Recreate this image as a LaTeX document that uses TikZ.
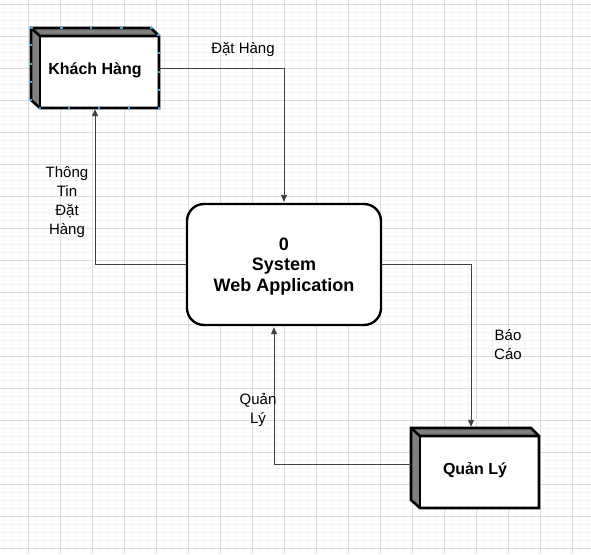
\documentclass[tikz,border=0pt]{standalone}
\usepackage{fontspec}
\setmainfont{Liberation Sans}
\usetikzlibrary{arrows.meta,calc}
\definecolor{minorc}{RGB}{243,243,243}
\definecolor{majorc}{RGB}{221,221,221}
\definecolor{depthc}{RGB}{128,128,128}
\definecolor{flowc}{RGB}{64,64,64}
\definecolor{handlec}{RGB}{60,165,215}
\newcommand\dfdbox[2]{%
  \fill[depthc] (#1,#2) -- (#1+120,#2) -- (#1+128,#2+8) -- (#1+128,#2+80) -- (#1+9,#2+80) -- (#1,#2+72) -- cycle;
  \fill[white] (#1+9,#2+8) rectangle (#1+128,#2+80);
  \draw[boxline] (#1,#2) -- (#1+120,#2) -- (#1+128,#2+8) -- (#1+128,#2+80) -- (#1+9,#2+80) -- (#1,#2+72) -- cycle;
  \draw[boxline] (#1,#2) -- (#1+9,#2+8) -- (#1+128,#2+8);
  \draw[boxline] (#1+9,#2+8) -- (#1+9,#2+80);
}
\begin{document}
\begin{tikzpicture}[x=1pt,y=-1pt,
  minorgrid/.style={draw=minorc,line width=0.8pt},
  majorgrid/.style={draw=majorc,line width=0.9pt},
  boxline/.style={draw=black,line width=2.6pt,line join=miter},
  extbox/.style={minimum width=128pt,minimum height=80pt,inner sep=0pt},
  exttext/.style={inner sep=0pt,font=\fontsize{16}{19}\selectfont\bfseries},
  sysbox/.style={draw=black,fill=white,line width=2.4pt,rounded corners=17pt,minimum width=194pt,minimum height=121pt,inner sep=0pt},
  systext/.style={align=center,inner sep=0pt,font=\fontsize{18}{20.5}\selectfont\bfseries},
  flow/.style={draw=flowc,line width=0.9pt,-{Triangle[length=7pt,width=6pt]},shorten >=1pt},
  lbl/.style={align=center,inner sep=0pt,font=\fontsize{15}{19}\selectfont},
  handle/.style={fill=handlec}
]
\useasboundingbox (0,0) rectangle (591,554);
\fill[white] (0,0) rectangle (591,554);
\begin{scope}
  \clip (0,0) rectangle (591,554);
  \foreach \i in {0,...,73} {
    \draw[minorgrid] ({4.3+8*\i},0) -- ({4.3+8*\i},554);
    \draw[minorgrid] (0,{4.3+8*\i}) -- (591,{4.3+8*\i});
  }
  \foreach \i in {0,...,18} {
    \draw[majorgrid] ({28.3+32*\i},0) -- ({28.3+32*\i},554);
    \draw[majorgrid] (0,{4.3+32*\i}) -- (591,{4.3+32*\i});
  }
\end{scope}

% external entities
\dfdbox{31}{28}
\dfdbox{411}{428}
\node[extbox] (kh) at (95,68) {};
\node[extbox] (ql) at (475,468) {};
\node[exttext] (khtext) at (95,70) {Khách Hàng};
\node[exttext] (qltext) at (475,470) {Quản Lý};

% selection handles on Khach Hang
\foreach \x/\y in {31.7/28,61.7/28,91/28,121.5/28,151.5/28,
                   158.5/35,159/53,159/72,159/90,159/108,
                   40/108,69/108,99/108,129/108,
                   31/45,31/64,31/82,31/100}
  \fill[handle] (\x-1.3,\y-1.3) rectangle ++(2.6,2.6);

% process
\node[sysbox] (sys) at (284,264.5) {};
\node[systext] (systxt) at (284,266.5) {0\\System\\Web Application};

% flows
\draw[flow] (kh.east) -| (sys.north);
\draw[flow] (sys.west) -| (kh.south);
\draw[flow] (sys.east) -| ([xshift=-4pt]ql.north);
\draw[flow] ([yshift=4pt]ql.west) -| ([xshift=-10pt]sys.south);

% labels
\node[lbl] (l1) at (243,50) {Đặt Hàng};
\node[lbl] (l2) at (67,202) {Thông\\Tin\\Đặt\\Hàng};
\node[lbl] (l3) at (508,345) {Báo\\Cáo};
\node[lbl] (l4) at (258,410) {Quản\\Lý};
\end{tikzpicture}
\end{document}
